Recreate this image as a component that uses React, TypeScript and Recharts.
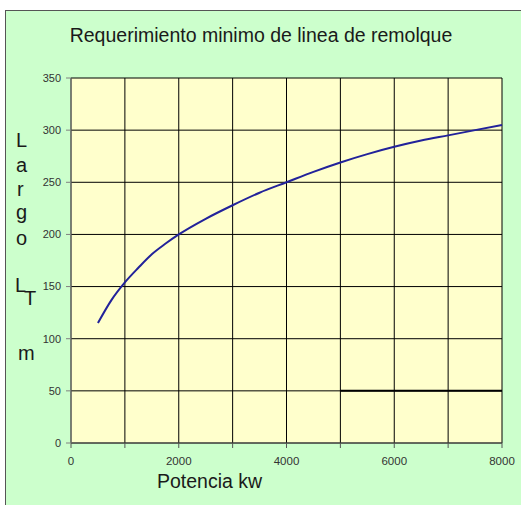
import React from 'react';
import { LineChart, Line, XAxis, YAxis, CartesianGrid } from 'recharts';

const power = [500, 750, 1000, 1250, 1500, 1750, 2000, 2500, 3000, 3500, 4000, 4500, 5000, 5500, 6000, 6500, 7000, 7500, 8000];
const largo = [115, 137, 154, 168, 181, 191, 200, 215, 228, 240, 250, 260, 269, 277, 284, 290, 295, 300, 305];
const limitPower = [5000, 8000];
const limitLargo = [50, 50];
const xTicks = [0, 1000, 2000, 3000, 4000, 5000, 6000, 7000, 8000];
const yTicks = [0, 50, 100, 150, 200, 250, 300, 350];
const title = 'Requerimiento minimo de linea de remolque';
const xLabel = 'Potencia kw';

const curveData = power.map((p, i) => ({ x: p, y: largo[i] }));
const limitData = limitPower.map((p, i) => ({ x: p, y: limitLargo[i] }));

const FONT = '"Liberation Sans", Arial, sans-serif';

export default function App() {
  return (
    <div style={{ position: 'absolute', left: 0, top: 0, width: 521, height: 505, overflow: 'hidden', fontFamily: FONT }}>
      <div
        style={{
          position: 'absolute',
          left: 5,
          top: 10,
          width: 530,
          height: 510,
          background: '#CCFFCC',
          borderTop: '1px solid #555',
          borderLeft: '1px solid #555',
        }}
      />
      <div style={{ position: 'absolute', left: 0, top: 0 }}>
        <LineChart
          width={521}
          height={505}
          data={curveData}
          margin={{ top: 78, right: 19, bottom: 32, left: 0 }}
        >
          <CartesianGrid stroke="#000" fill="#FFFFCC" fillOpacity={1} />
          <XAxis
            dataKey="x"
            type="number"
            domain={[0, 8000]}
            ticks={xTicks}
            tickFormatter={(v: number) => (v % 2000 === 0 ? String(v) : '')}
            interval={0}
            height={30}
            stroke="#555"
            tickSize={5}
            tickMargin={9}
            tick={{ fill: '#333', fontSize: 11.5, fontFamily: FONT }}
          />
          <YAxis
            type="number"
            domain={[0, 350]}
            ticks={yTicks}
            interval={0}
            width={71}
            stroke="#808080"
            tickSize={5}
            tickMargin={5}
            tick={{ fill: '#333', fontSize: 11, fontFamily: FONT }}
          />
          <Line
            type="monotone"
            dataKey="y"
            stroke="#22229A"
            strokeWidth={2}
            dot={false}
            isAnimationActive={false}
          />
          <Line
            data={limitData}
            type="linear"
            dataKey="y"
            stroke="#000"
            strokeWidth={2}
            dot={false}
            isAnimationActive={false}
          />
        </LineChart>
      </div>
      <svg
        width={521}
        height={505}
        style={{ position: 'absolute', left: 0, top: 0, pointerEvents: 'none' }}
        fontFamily={FONT}
      >
        <text x={261} y={42} textAnchor="middle" fontSize={19.5} fill="#1a1a1a">{title}</text>
        <text x={157} y={488} fontSize={19.5} fill="#1a1a1a">{xLabel}</text>
        <text x={16} y={147} fontSize={20} fill="#1a1a1a">L</text>
        <text x={16} y={172} fontSize={20} fill="#1a1a1a">a</text>
        <text x={17} y={196} fontSize={20} fill="#1a1a1a">r</text>
        <text x={16} y={219} fontSize={20} fill="#1a1a1a">g</text>
        <text x={16} y={245} fontSize={20} fill="#1a1a1a">o</text>
        <text x={15} y={292} fontSize={20} fill="#1a1a1a">L</text>
        <text x={24} y={305} fontSize={20} fill="#1a1a1a">T</text>
        <text x={18} y={360} fontSize={20} fill="#1a1a1a">m</text>
      </svg>
    </div>
  );
}
